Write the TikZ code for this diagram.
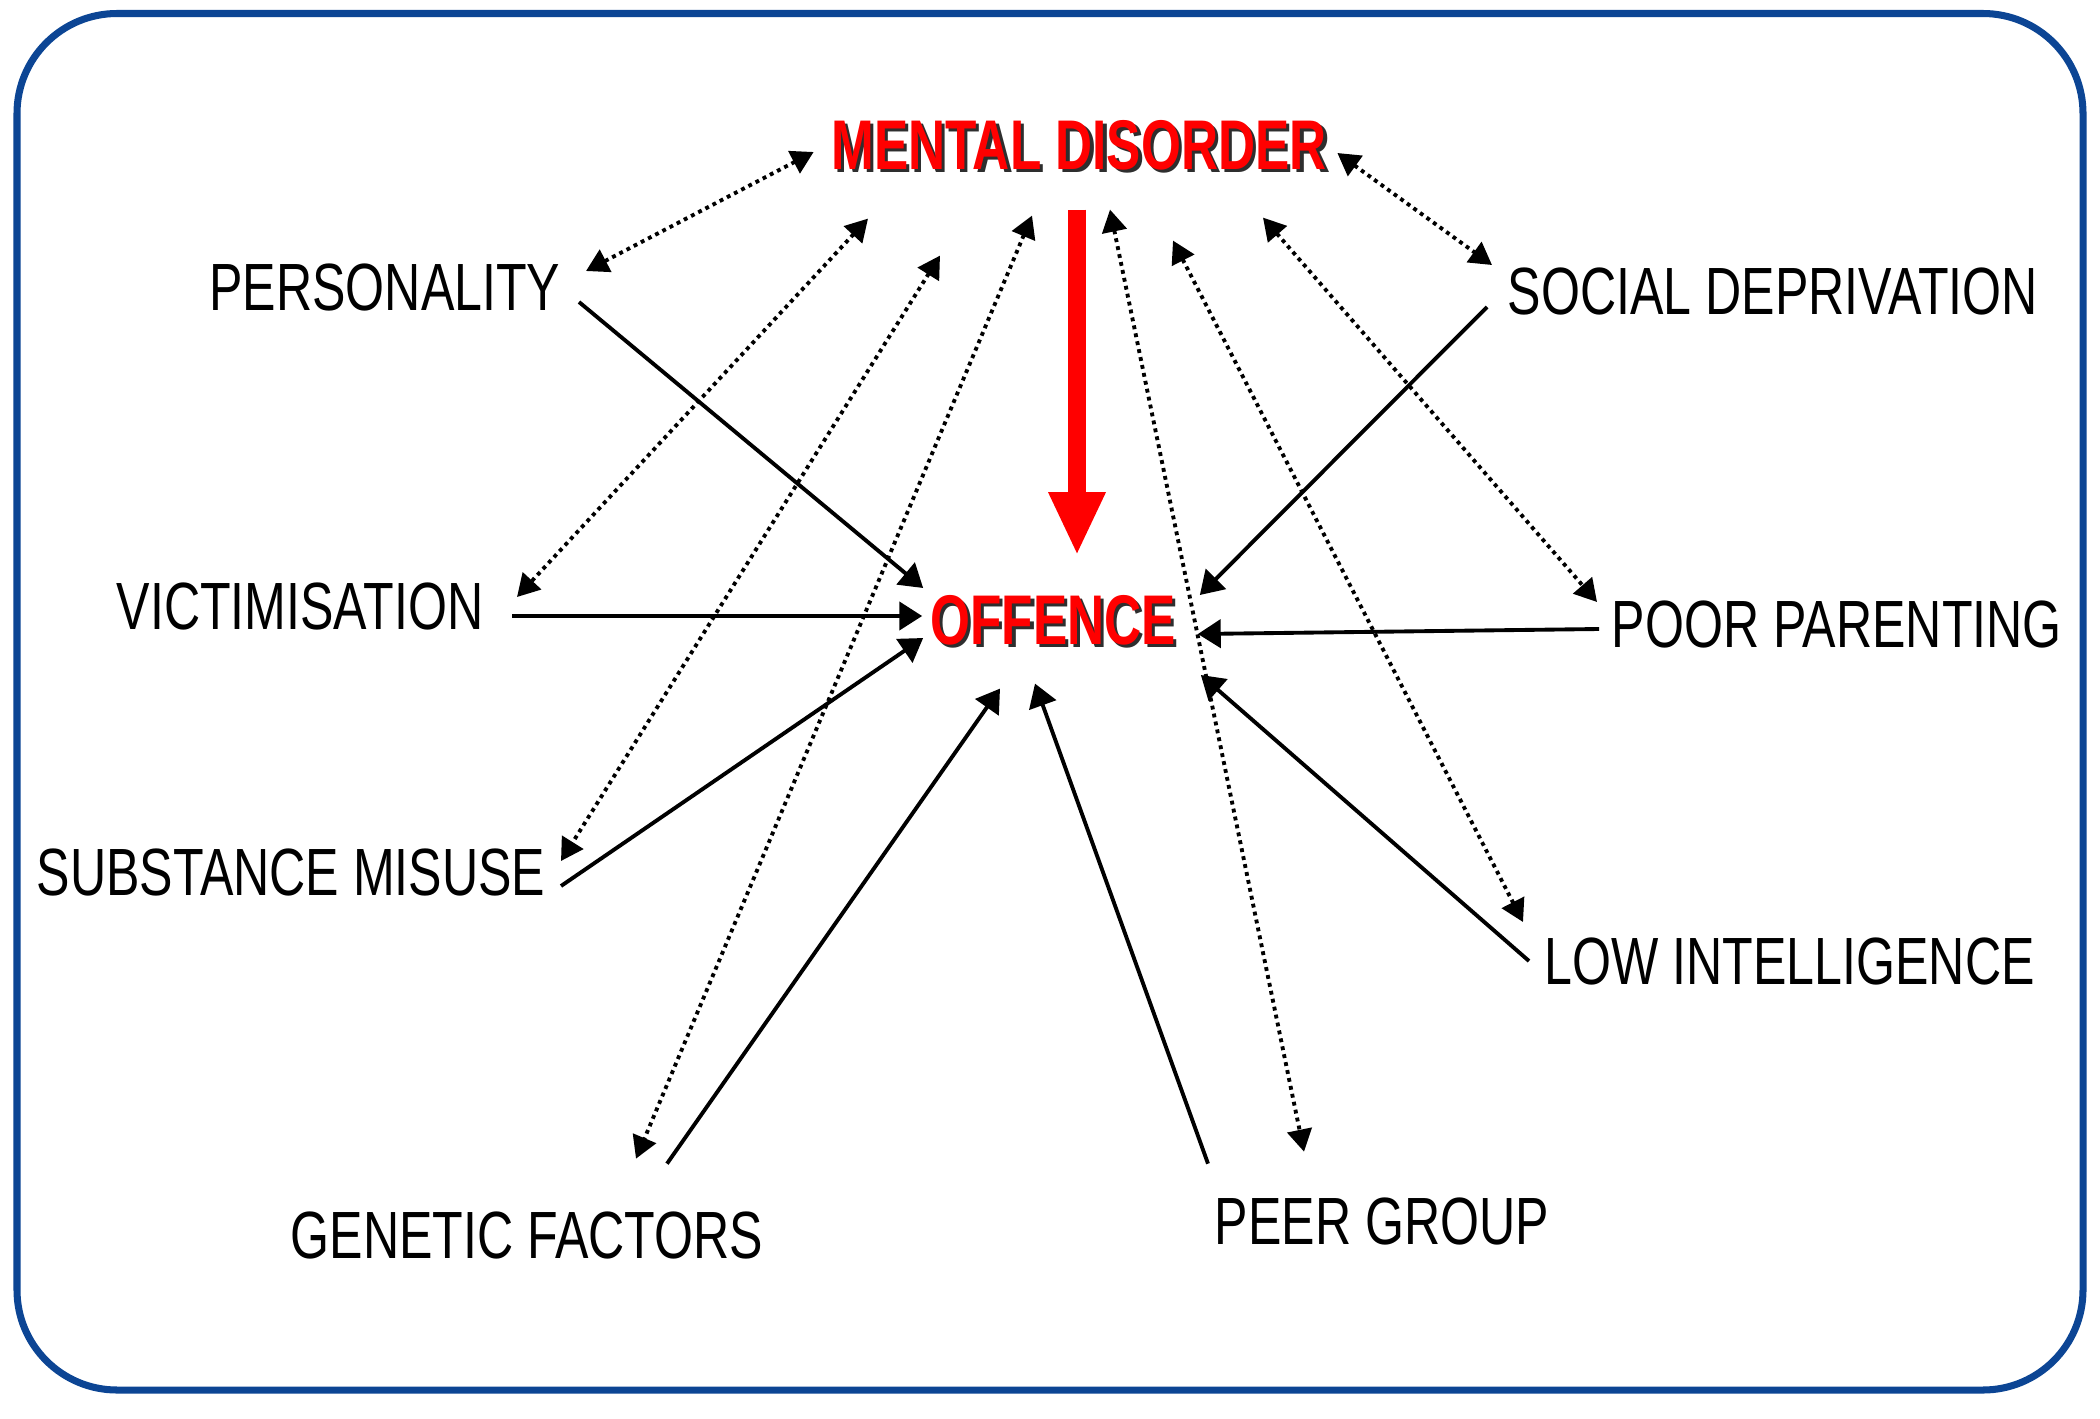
\documentclass[tikz,border=0pt]{standalone}
\usepackage{fontspec}
\usetikzlibrary{arrows.meta}
\newfontfamily\labelfont[FakeStretch=0.75]{Liberation Sans}
\newfontfamily\corefont[FakeStretch=0.73]{Liberation Sans}
\definecolor{mdred}{HTML}{FF0000}
\definecolor{mdshadow}{HTML}{2E2E2E}
\definecolor{mdframe}{HTML}{0C4594}
\newcommand{\redshadow}[1]{\makebox[0pt][l]{\kern1pt\raisebox{-1pt}[0pt][0pt]{\textcolor{mdshadow}{#1}}}\textcolor{mdred}{#1}}

\begin{document}
\begin{tikzpicture}[x=0.01cm, y=-0.01cm,
    factor/.style={inner sep=0pt, font=\labelfont\fontsize{19pt}{22pt}\selectfont},
    core/.style={inner sep=0pt, font=\corefont\bfseries\fontsize{20pt}{24pt}\selectfont},
    cause/.style={-{Triangle[length=6.5pt, width=8pt]}, line width=1.1pt},
    link/.style={{Triangle[length=6.3pt, width=7pt]}-{Triangle[length=6.3pt, width=7pt]}, line width=1.1pt, dash pattern=on 1.1pt off 1.2pt}]
    \useasboundingbox (0,0) rectangle (2100,1418);
    \fill[white] (0,0) rectangle (2100,1418);
    \draw[mdframe, line width=2pt, rounded corners=1cm] (17,13.5) rectangle (2083,1390);

    % Centre
    \node[core] (md) at (1079,145) {\redshadow{MENTAL DISORDER}};
    \node[core] (off) at (1053,620) {\redshadow{OFFENCE}};

    % Factors
    \node[factor, anchor=east] (pers) at (561,287) {PERSONALITY};
    \node[factor, anchor=east] (vic) at (484,606) {VICTIMISATION};
    \node[factor, anchor=east] (subst) at (546,872) {SUBSTANCE MISUSE};
    \node[factor] (gen) at (527,1235) {GENETIC FACTORS};
    \node[factor] (peer) at (1382,1221) {PEER GROUP};
    \node[factor, anchor=west] (low) at (1544,961) {LOW INTELLIGENCE};
    \node[factor, anchor=west] (poor) at (1611,624) {POOR PARENTING};
    \node[factor, anchor=west] (soc) at (1507,291) {SOCIAL DEPRIVATION};

    % Mental disorder leads to offence
    \draw[-{Triangle[length=18pt, width=15pt]}, line width=5.1pt, mdred] ([shift={(-2,39)}]md.south) -- ([shift={(24,-39)}]off.north);

    % Factors into offence
    \draw[cause] ([shift={(18,15)}]pers.east) -- ([shift={(-6.5,-32)}]off.west);
    \draw[cause] ([shift={(28,10)}]vic.east) -- ([shift={(-7.5,-4)}]off.west);
    \draw[cause] ([shift={(15,14)}]subst.east) -- ([shift={(-6.5,18)}]off.west);
    \draw[cause] ([shift={(140,-47)}]gen.north) -- ([shift={(-53,43)}]off.south);
    \draw[cause] ([shift={(-174,-33)}]peer.north) -- ([shift={(-18,38)}]off.south);
    \draw[cause] ([shift={(-15,0)}]low.west) -- ([shift={(24.5,55)}]off.east);
    \draw[cause] ([shift={(-12,5)}]poor.west) -- ([shift={(21.5,14)}]off.east);
    \draw[cause] ([shift={(-20,16)}]soc.west) -- ([shift={(23.5,-25)}]off.east);

    % Factors and mental disorder
    \draw[link] ([shift={(-17,7)}]md.west) -- ([shift={(25,-16)}]pers.east);
    \draw[link] ([shift={(-211,48)}]md.south) -- ([shift={(33,-9)}]vic.east);
    \draw[link] ([shift={(-139,85)}]md.south) -- ([shift={(15,-11)}]subst.east);
    \draw[link] ([shift={(-47,45)}]md.south) -- ([shift={(109,-52)}]gen.north);
    \draw[link] ([shift={(31,39)}]md.south) -- ([shift={(-78,-45)}]peer.north);
    \draw[link] ([shift={(94,70)}]md.south) -- ([shift={(-21,-39)}]low.west);
    \draw[link] ([shift={(184,47)}]md.south) -- ([shift={(-14,-22)}]poor.west);
    \draw[link] ([shift={(10,8)}]md.east) -- ([shift={(-15,-26)}]soc.west);
\end{tikzpicture}
\end{document}
